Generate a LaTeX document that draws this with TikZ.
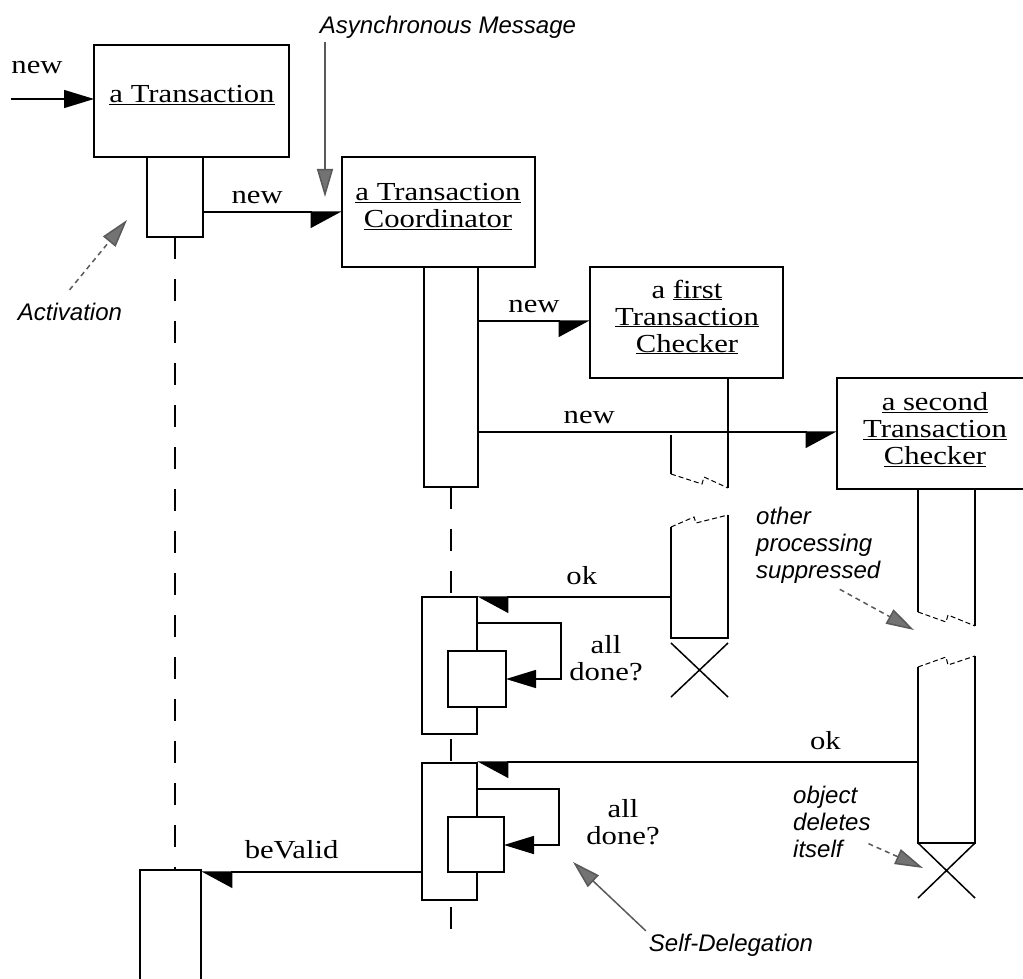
\documentclass[tikz,border=0pt]{standalone}
\usepackage{fontspec}
\setmainfont{Liberation Serif}[FakeStretch=1.18]
\newfontfamily\notefont{Liberation Sans}
\usetikzlibrary{arrows.meta,positioning,calc,backgrounds}

\tikzset{
  objbox/.style={draw,line width=1.5pt,fill=white,inner sep=0pt,outer sep=0pt,anchor=north west},
  objtext/.style={font=\fontsize{26}{27}\selectfont,align=center,inner sep=0pt},
  actbox/.style={draw,line width=1.5pt,fill=white,inner sep=0pt,outer sep=0pt,anchor=north west},
  msgtext/.style={font=\fontsize{26}{27}\selectfont,inner sep=0pt},
  notetext/.style={font=\notefont\itshape\fontsize{24}{27}\selectfont,inner sep=0pt,align=left},
  lifeline/.style={line width=1.5pt,dash pattern=on 22pt off 20pt},
  msg/.style={line width=1.5pt,-{Triangle[harpoon,swap,length=30pt,width=32pt]}},
  back/.style={line width=1.5pt,-{Triangle[harpoon,length=30pt,width=32pt]}},
  call/.style={line width=1.5pt,-{Triangle[length=30pt,width=18pt]}},
  pointer/.style={line width=1.5pt,black!65,-{Triangle[length=28pt,width=16pt,fill=black!55]},shorten <=4pt},
  notedash/.style={pointer,dash pattern=on 5pt off 4pt},
  breakline/.style={line width=1pt,dash pattern=on 5pt off 3pt},
  lifeedge/.style={line width=1.5pt},
}

\begin{document}
\begin{tikzpicture}[x=1pt,y=-1pt]
\useasboundingbox (0,0) rectangle (1023,979);

% objects
\node[objbox,minimum width=195pt,minimum height=112pt] (trans) at (94,45) {};
\node[objtext] (transname) at (192,95) {\underline{a Transaction}};
\node[objbox,minimum width=193pt,minimum height=110pt] (coord) at (342,157) {};
\node[objtext] (coordname) at (438,207) {\underline{a Transaction}\\\underline{Coordinator}};
\node[objbox,minimum width=193pt,minimum height=111pt] (chkA) at (590,267) {};
\node[objtext] (chkAname) at (687,317) {a \underline{first}\\\underline{Transaction}\\\underline{Checker}};
\node[objbox,minimum width=190pt,minimum height=111pt] (chkB) at (837,378) {};
\node[objtext] (chkBname) at (935,430) {\underline{a second}\\\underline{Transaction}\\\underline{Checker}};

% activations
\node[actbox,minimum width=56pt,minimum height=80pt] (act1) at (147,157) {};
\node[actbox,minimum width=54pt,minimum height=220pt] (act2) at (424,267) {};
\node[actbox,minimum width=55pt,minimum height=137pt] (act3) at (422,597) {};
\node[actbox,minimum width=58pt,minimum height=56pt] (nest1) at (448,651) {};
\node[actbox,minimum width=55pt,minimum height=137pt] (act4) at (422,763) {};
\node[actbox,minimum width=56pt,minimum height=55pt] (nest2) at (448,817) {};
\node[actbox,minimum width=61pt,minimum height=125pt] (act5) at (140,870) {};

% lifelines
\begin{scope}[on background layer]
  \draw[lifeline] (act1.south) -- (act1.south |- act5.north);
  \draw[lifeline] (act2.south) -- (act2.south |- 0,935);
\end{scope}

% checker lifelines with breaks
\draw[lifeedge] (671,435) -- (671,474) (728,378) -- (728,488);
\draw[breakline] (671,474) -- (702,484) -- (704,477) -- (728,488);
\draw[breakline] (671,527) -- (694,517) -- (696,523) -- (728,515);
\draw[lifeedge] (671,527) -- (671,638) -- (728,638) -- (728,515);
\draw[lifeedge] (671,643) -- (728,697) (728,643) -- (671,697);

\draw[lifeedge] (918,489) -- (918,612) (975,489) -- (975,626);
\draw[breakline] (918,612) -- (946,622) -- (948,615) -- (975,626);
\draw[breakline] (918,667) -- (946,657) -- (948,665) -- (975,656);
\draw[lifeedge] (918,667) -- (918,843) -- (975,843) -- (975,656);
\draw[lifeedge] (918,843) -- (975,898) (975,843) -- (918,898);

% messages
\coordinate (start) at (11,99);
\node[msgtext] (newA) at (37,68) {new};
\draw[call] (start) -- (start -| trans.west);
\draw[msg] (act1.east |- 0,212) -- (coord.west |- 0,212)
  node[msgtext,above=7pt,pos=0.39] {new};
\draw[msg] (act2.east |- 0,321) -- (chkA.west |- 0,321)
  node[msgtext,above=7pt,pos=0.5] {new};
\draw[msg] (act2.east |- 0,432) -- (chkB.west |- 0,432)
  node[msgtext,above=7pt,pos=0.31] {new};
\coordinate (chkAok) at (671,597);
\draw[back] (chkAok) -- (act3.east |- chkAok)
  node[msgtext,above=12pt,pos=0.46] {ok};
\draw[call] (act3.east |- 0,623) -| (561,679) -- (nest1.east |- 0,679);
\node[msgtext,align=center] (doneA) at (606,658) {all\\done?};
\coordinate (chkBok) at (918,762);
\draw[back] (chkBok) -- (act4.east |- chkBok)
  node[msgtext,above=12pt,pos=0.21] {ok};
\draw[call] (act4.east |- 0,789) -| (559,845) -- (nest2.east |- 0,845);
\node[msgtext,align=center] (doneB) at (623,822) {all\\done?};
\draw[back] (act4.west |- 0,872) -- (act5.east |- 0,872)
  node[msgtext,above=12pt,pos=0.59] {beValid};

% notes
\node[notetext] (asyncnote) at (448,27) {Asynchronous Message};
\coordinate (asynctip) at (325,197);
\draw[pointer] (asyncnote.south -| asynctip) -- (asynctip);
\node[notetext] (actnote) at (70,312) {Activation};
\coordinate (acttip) at (127,220);
\draw[notedash] ($(actnote.north)+(-3,-10)$) -- (acttip);
\node[notetext,anchor=west] (supnote) at (756,545) {other\\processing\\suppressed};
\coordinate (suptip) at (914,630);
\draw[notedash] ($(supnote.south)+(18,4)$) -- (suptip);
\node[notetext,anchor=west] (delnote) at (793,822) {object\\deletes\\itself};
\coordinate (deltip) at (923,868);
\draw[notedash] ($(delnote.south east)+(-6,-16)$) -- (deltip);
\node[notetext] (selfnote) at (731,945) {Self-Delegation};
\coordinate (selftip) at (573,862);
\draw[pointer] (selfnote.north west) -- (selftip);
\end{tikzpicture}
\end{document}
